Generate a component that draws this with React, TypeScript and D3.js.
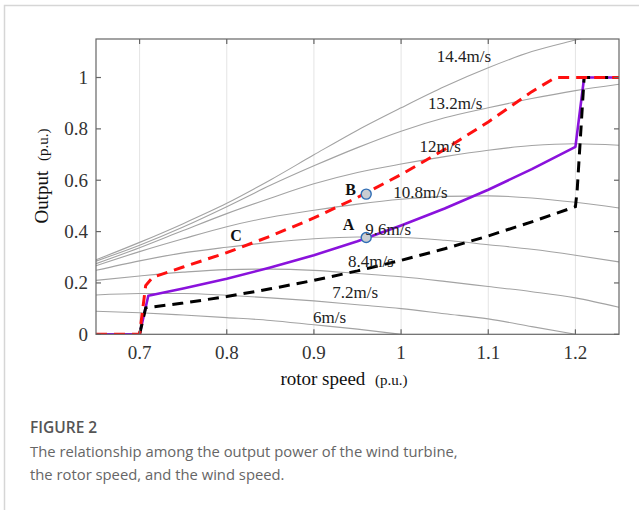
import React, { useEffect, useRef } from 'react';
import * as d3 from 'd3';

// rotor speed grid (p.u.) for the wind-speed power curves
const rotorSpeed = [0.65, 0.7, 0.75, 0.8, 0.85, 0.9, 0.95, 1.0, 1.05, 1.1, 1.15, 1.2, 1.25];

// output power (p.u.) per wind speed
const wind144 = [0.29, 0.358, 0.431, 0.51, 0.601, 0.699, 0.795, 0.882, 0.965, 1.038, 1.101, 1.146, 1.188];
const wind132 = [0.285, 0.347, 0.418, 0.497, 0.58, 0.656, 0.727, 0.791, 0.843, 0.882, 0.918, 0.949, 0.974];
const wind120 = [0.275, 0.337, 0.404, 0.47, 0.53, 0.586, 0.63, 0.663, 0.692, 0.717, 0.735, 0.742, 0.736];
const wind108 = [0.267, 0.322, 0.372, 0.419, 0.456, 0.483, 0.507, 0.526, 0.537, 0.539, 0.531, 0.514, 0.492];
const wind96 = [0.249, 0.286, 0.317, 0.339, 0.358, 0.372, 0.379, 0.377, 0.366, 0.349, 0.331, 0.308, 0.282];
const wind84 = [0.21, 0.227, 0.242, 0.252, 0.254, 0.249, 0.237, 0.224, 0.206, 0.186, 0.166, 0.142, 0.105];
const wind72 = [0.153, 0.159, 0.159, 0.152, 0.142, 0.13, 0.115, 0.1, 0.08, 0.06, 0.03, 0, null];
const wind60 = [0.09, 0.084, 0.075, 0.065, 0.054, 0.037, 0.02, 0, null, null, null, null, null];

const windCurves = [wind144, wind132, wind120, wind108, wind96, wind84, wind72, wind60];
const windLabels = ['14.4m/s', '13.2m/s', '12m/s', '10.8m/s', '9.6m/s', '8.4m/s', '7.2m/s', '6m/s'];
// label anchors in data units (rotor speed, power)
const windLabelSpeed = [1.041, 1.031, 1.021, 0.991, 0.959, 0.939, 0.921, 0.899];
const windLabelPower = [1.06, 0.877, 0.71, 0.531, 0.387, 0.262, 0.141, 0.044];

// MPPT operating curve (purple)
const mpptSpeed = [0.65, 0.7, 0.71, 0.75, 0.8, 0.85, 0.9, 0.95, 1.0, 1.05, 1.1, 1.15, 1.2, 1.21, 1.25];
const mpptPower = [0, 0, 0.15, 0.178, 0.216, 0.26, 0.308, 0.362, 0.424, 0.49, 0.563, 0.643, 0.73, 1.0, 1.0];

// upper operating curve (red dashed)
const upperSpeed = [0.65, 0.7, 0.707, 0.715, 0.75, 0.8, 0.85, 0.9, 0.95, 1.0, 1.05, 1.1, 1.15, 1.177, 1.25];
const upperPower = [0, 0, 0.19, 0.222, 0.262, 0.318, 0.382, 0.453, 0.533, 0.622, 0.72, 0.827, 0.945, 1.0, 1.0];

// lower operating curve (black dashed)
const lowerSpeed = [0.7, 0.707, 0.75, 0.8, 0.85, 0.9, 0.95, 1.0, 1.05, 1.1, 1.15, 1.2, 1.202, 1.21, 1.25];
const lowerPower = [0, 0.103, 0.1215, 0.147, 0.177, 0.21, 0.247, 0.288, 0.333, 0.383, 0.438, 0.497, 0.56, 1.0, 1.0];

// marked points and letters
const markerSpeed = [0.96, 0.96];
const markerPower = [0.377, 0.546];
const letterNames = ['A', 'B', 'C'];
const letterSpeed = [0.933, 0.936, 0.804];
const letterPower = [0.406, 0.543, 0.363];

const xTicks = [0.7, 0.8, 0.9, 1, 1.1, 1.2];
const yTicks = [0, 0.2, 0.4, 0.6, 0.8, 1];

const SERIF = '"Liberation Serif", "Times New Roman", serif';
const SANS = '"Open Sans", "Noto Sans", sans-serif';

function App() {
  const ref = useRef(null);

  useEffect(() => {
    const svg = d3.select(ref.current);
    svg.selectAll('*').remove();

    const left = 96, right = 619, top = 39, bottom = 334.3;
    const x = d3.scaleLinear().domain([0.65, 1.25]).range([left, right]);
    const y = d3.scaleLinear().domain([0, 1.15]).range([bottom, top]);

    // card
    svg.append('rect').attr('width', 639).attr('height', 510).attr('fill', '#fff');
    svg.append('rect')
      .attr('x', 4.5).attr('y', 5.5).attr('width', 700).attr('height', 600)
      .attr('fill', 'none').attr('stroke', '#d6d6d6').attr('stroke-width', 1.5);

    svg.append('defs').append('clipPath').attr('id', 'plotClip')
      .append('rect').attr('x', left).attr('y', top).attr('width', right - left).attr('height', bottom - top);

    // vertical grid
    svg.append('g').selectAll('line').data(xTicks).enter().append('line')
      .attr('x1', d => x(d)).attr('x2', d => x(d)).attr('y1', top).attr('y2', bottom)
      .attr('stroke', '#e4e4e4').attr('stroke-width', 1);

    const plot = svg.append('g').attr('clip-path', 'url(#plotClip)');

    // wind speed curves
    const windLine = d3.line()
      .defined(d => d[1] !== null)
      .x(d => x(d[0])).y(d => y(d[1]))
      .curve(d3.curveMonotoneX);

    windCurves.forEach(vals => {
      plot.append('path')
        .datum(rotorSpeed.map((s, i) => [s, vals[i]]))
        .attr('d', windLine)
        .attr('fill', 'none').attr('stroke', '#a3a3a3').attr('stroke-width', 1.1);
    });

    const opLine = d3.line().x(d => x(d[0])).y(d => y(d[1]));

    plot.append('path')
      .datum(mpptSpeed.map((s, i) => [s, mpptPower[i]]))
      .attr('d', opLine)
      .attr('fill', 'none').attr('stroke', '#8a12dc').attr('stroke-width', 2.6)
      .attr('stroke-linejoin', 'round');

    plot.append('path')
      .datum(lowerSpeed.map((s, i) => [s, lowerPower[i]]))
      .attr('d', opLine)
      .attr('fill', 'none').attr('stroke', '#000').attr('stroke-width', 3)
      .attr('stroke-dasharray', '11,7');

    plot.append('path')
      .datum(upperSpeed.map((s, i) => [s, upperPower[i]]))
      .attr('d', opLine)
      .attr('fill', 'none').attr('stroke', '#ff1010').attr('stroke-width', 3)
      .attr('stroke-dasharray', '11,7');

    // markers A, B
    svg.append('g').selectAll('circle').data(markerSpeed).enter().append('circle')
      .attr('cx', d => x(d)).attr('cy', (d, i) => y(markerPower[i])).attr('r', 5)
      .attr('fill', '#c9cdd2').attr('stroke', '#2f6db5').attr('stroke-width', 1.4);

    // wind labels
    svg.append('g').selectAll('text').data(windLabels).enter().append('text')
      .attr('x', (d, i) => x(windLabelSpeed[i])).attr('y', (d, i) => y(windLabelPower[i]))
      .style('font-family', SERIF).style('font-size', '17px').style('fill', '#222')
      .text(d => d);

    svg.append('g').selectAll('text').data(letterNames).enter().append('text')
      .attr('x', (d, i) => x(letterSpeed[i])).attr('y', (d, i) => y(letterPower[i]))
      .style('font-family', SERIF).style('font-size', '16px').style('font-weight', 'bold').style('fill', '#111')
      .text(d => d);

    // box
    svg.append('rect')
      .attr('x', left).attr('y', top).attr('width', right - left).attr('height', bottom - top)
      .attr('fill', 'none').attr('stroke', '#666').attr('stroke-width', 1.2);

    // ticks (inside, on all four sides)
    const tk = svg.append('g').attr('stroke', '#666').attr('stroke-width', 1.2);
    xTicks.forEach(t => {
      tk.append('line').attr('x1', x(t)).attr('x2', x(t)).attr('y1', bottom).attr('y2', bottom - 5);
      tk.append('line').attr('x1', x(t)).attr('x2', x(t)).attr('y1', top).attr('y2', top + 5);
    });
    yTicks.forEach(t => {
      tk.append('line').attr('x1', left).attr('x2', left + 5).attr('y1', y(t)).attr('y2', y(t));
      tk.append('line').attr('x1', right).attr('x2', right - 5).attr('y1', y(t)).attr('y2', y(t));
    });

    svg.append('g').selectAll('text').data(xTicks).enter().append('text')
      .attr('x', d => x(d)).attr('y', bottom + 25)
      .attr('text-anchor', 'middle')
      .style('font-family', SERIF).style('font-size', '19px').style('fill', '#333')
      .text(d => String(d));

    svg.append('g').selectAll('text').data(yTicks).enter().append('text')
      .attr('x', left - 8).attr('y', d => y(d) + 6.5)
      .attr('text-anchor', 'end')
      .style('font-family', SERIF).style('font-size', '19px').style('fill', '#333')
      .text(d => String(d));

    // axis titles
    const xl = svg.append('text').attr('x', 344).attr('y', 385).attr('text-anchor', 'middle')
      .style('font-family', SERIF).style('fill', '#111');
    xl.append('tspan').style('font-size', '19px').text('rotor speed ');
    xl.append('tspan').style('font-size', '15px').attr('dx', 5).text('(p.u.)');

    const yl = svg.append('text').attr('transform', 'translate(48,176) rotate(-90)').attr('text-anchor', 'middle')
      .style('font-family', SERIF).style('fill', '#111');
    yl.append('tspan').style('font-size', '19px').text('Output ');
    yl.append('tspan').style('font-size', '15px').attr('dx', 5).text('(p.u.)');

    // caption
    svg.append('text').attr('x', 30).attr('y', 433)
      .style('font-family', SANS).style('font-size', '15.5px')
      .style('font-weight', 600).style('fill', '#555')
      .text('FIGURE 2');
    svg.append('text').attr('x', 30).attr('y', 457)
      .style('font-family', SANS).style('font-size', '14.8px').style('fill', '#666')
      .text('The relationship among the output power of the wind turbine,');
    svg.append('text').attr('x', 30).attr('y', 480)
      .style('font-family', SANS).style('font-size', '14.8px').style('fill', '#666')
      .text('the rotor speed, and the wind speed.');
  }, []);

  return (
    <svg ref={ref} width={639} height={510}
      style={{ position: 'absolute', left: 0, top: 0, display: 'block' }} />
  );
}

export default App;
